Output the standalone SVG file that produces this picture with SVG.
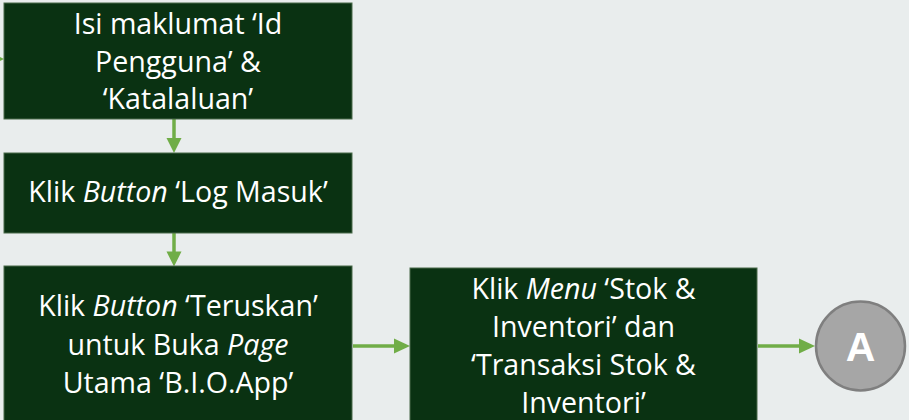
<svg xmlns="http://www.w3.org/2000/svg" width="909" height="420" viewBox="0 0 909 420">
<defs>
<style>
.box{fill:#0a3212;stroke:#4a6b4a;stroke-width:1}
.t{fill:#ffffff;font-family:"Open Sans","Noto Sans",sans-serif;font-size:28.6px;text-anchor:middle}
.i{font-style:italic}
.c{stroke:#70ad47;stroke-width:3.5;fill:none}
.h{fill:#70ad47}
</style>
</defs>
<rect width="909" height="420" fill="#e9eded"/>
<g id="connectors">
<line class="c" x1="-10" y1="59" x2="0" y2="59"/>
<polygon class="h" points="-10,52 4,59 -10,66"/>
<line class="c" x1="174" y1="119" x2="174" y2="139"/>
<polygon class="h" points="166.5,138 181.5,138 174,153"/>
<line class="c" x1="174" y1="233" x2="174" y2="252"/>
<polygon class="h" points="166.5,251.5 181.5,251.5 174,266.5"/>
<line class="c" x1="353" y1="346" x2="395" y2="346"/>
<polygon class="h" points="394,338.5 410,346 394,353.5"/>
<line class="c" x1="758" y1="346" x2="800" y2="346"/>
<polygon class="h" points="799,338.5 815,346 799,353.5"/>
</g>
<g id="node1">
<rect class="box" x="4" y="3" width="348" height="116"/>
<text class="t" x="178" y="34">Isi maklumat ‘Id</text>
<text class="t" x="178" y="72">Pengguna’ &amp;</text>
<text class="t" x="178" y="109">‘Katalaluan’</text>
</g>
<g id="node2">
<rect class="box" x="4" y="153" width="348" height="80"/>
<text class="t" x="178" y="202">Klik <tspan class="i">Button</tspan> ‘Log Masuk’</text>
</g>
<g id="node3">
<rect class="box" x="4" y="266" width="348" height="170"/>
<text class="t" x="178" y="316">Klik <tspan class="i">Button</tspan> ‘Teruskan’</text>
<text class="t" x="178" y="355">untuk Buka <tspan class="i">Page</tspan></text>
<text class="t" x="178" y="393">Utama ‘B.I.O.App’</text>
</g>
<g id="node4">
<rect class="box" x="410" y="268" width="347" height="170"/>
<text class="t" x="583.5" y="299">Klik <tspan class="i">Menu</tspan> ‘Stok &amp;</text>
<text class="t" x="583.5" y="337">Inventori’ dan</text>
<text class="t" x="583.5" y="375">‘Transaksi Stok &amp;</text>
<text class="t" x="583.5" y="413">Inventori’</text>
</g>
<g id="nodeA">
<circle cx="860.5" cy="346" r="44.5" fill="#a6a6a6" stroke="#7f7f7f" stroke-width="2.5"/>
<text x="860.5" y="361" fill="#ffffff" font-family="'Liberation Sans',Arial,sans-serif" font-weight="bold" font-size="41" text-anchor="middle">A</text>
</g>
</svg>
